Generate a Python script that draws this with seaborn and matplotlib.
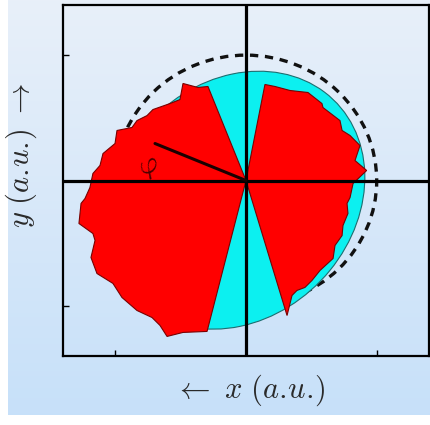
import numpy as np
import matplotlib
matplotlib.use("Agg")
import matplotlib.pyplot as plt
from matplotlib.patches import Circle, Ellipse
import seaborn as sns

sns.set_theme(style="white")
plt.rcParams["mathtext.fontset"] = "cm"

# outline of the left red lobe (data units), starting and ending at the origin
left_x = [0.0, -0.291, -0.367, -0.482, -0.505, -0.581, -0.712, -0.757, -0.834, -0.872,
          -0.987, -1.002, -1.094, -1.117, -1.171, -1.194, -1.232, -1.262, -1.278,
          -1.171, -1.155, -1.186, -1.140, -1.018, -0.949, -0.834, -0.719, -0.658,
          -0.604, -0.482, -0.298, 0.0]
left_y = [0.0, 0.750, 0.742, 0.774, 0.646, 0.614, 0.566, 0.518, 0.478, 0.423,
          0.399, 0.295, 0.215, 0.120, 0.056, -0.056, -0.144, -0.183, -0.343,
          -0.423, -0.478, -0.614, -0.742, -0.821, -0.933, -1.037, -1.093, -1.156,
          -1.244, -1.212, -1.204, 0.0]

# outline of the right red lobe
right_x = [0.0, 0.145, 0.222, 0.337, 0.474, 0.581, 0.589, 0.719, 0.735, 0.796,
           0.872, 0.834, 0.923, 0.819, 0.796, 0.773, 0.780, 0.742, 0.735, 0.681,
           0.666, 0.566, 0.505, 0.451, 0.390, 0.352, 0.314, 0.0]
right_y = [0.0, 0.766, 0.750, 0.718, 0.702, 0.614, 0.582, 0.478, 0.399, 0.359,
           0.279, 0.159, 0.080, -0.024, -0.136, -0.183, -0.263, -0.359, -0.439,
           -0.518, -0.622, -0.718, -0.797, -0.853, -0.877, -0.917, -1.077, 0.0]

# cyan disc: centre, full width/height and tilt (degrees)
disc_center = (-0.075, -0.157)
disc_size = (2.19, 1.82)
disc_angle = 52.0

# reference circle radius
ref_radius = 1.0

# angle marker
phi_x = [0.0, -0.696]
phi_y = [0.0, 0.295]

W, H = 431, 425
fig = plt.figure(figsize=(W / 100, H / 100), dpi=100, facecolor="white")

# soft blue gradient backdrop
bg = fig.add_axes([0, 0, 1, 1])
bg.set_xlim(0, 1)
bg.set_ylim(0, 1)
top = np.array([0.91, 0.94, 0.98])
bot = np.array([0.78, 0.88, 0.98])
t = np.linspace(0, 1, 256)[:, None]
grad = (top * (1 - t) + bot * t)[:, None, :]
bg.imshow(grad, extent=[8 / W, 1, 10 / H, 1], aspect="auto", zorder=0)
bg.axis("off")

ax = fig.add_axes([63 / W, 1 - 356 / H, 366 / W, 351 / H])
ax.set_facecolor("none")
ax.set_xlim(-1.4, 1.4)
ax.set_ylim(-1.4, 1.4)

ax.add_patch(Circle((0, 0), ref_radius, fill=False, ls=(0, (2.5, 2.0)),
                    lw=2.4, ec="#111111", zorder=1))
ax.add_patch(Ellipse(disc_center, disc_size[0], disc_size[1], angle=disc_angle,
                     fc="#0cf0f0", ec="#1d6e70", lw=0.8, zorder=2))
ax.fill(left_x, left_y, fc="#ff0000", ec="#7a0000", lw=0.8, zorder=3)
ax.fill(right_x, right_y, fc="#ff0000", ec="#7a0000", lw=0.8, zorder=3)

ax.axhline(0, color="black", lw=2.3, zorder=4)
ax.axvline(0, color="black", lw=2.3, zorder=4)

sns.lineplot(x=phi_x, y=phi_y, ax=ax, color="#1a0000", lw=2.2, zorder=5,
             sort=False, estimator=None)
ax.text(-0.74, 0.11, r"$\varphi$", fontsize=21, color="#4a0000",
        rotation=25, ha="center", va="center", zorder=6)

ax.set_xticks([-1, 1])
ax.set_yticks([-1, 1])
ax.tick_params(direction="in", length=4, width=1, colors="black",
               labelbottom=False, labelleft=False, bottom=True, left=True,
               top=False, right=False)
for s in ax.spines.values():
    s.set_visible(True)
    s.set_color("black")
    s.set_linewidth(1.6)
ax.set_xlabel("")
ax.set_ylabel("")

fig.text(250 / W, 1 - 390 / H, r"$\leftarrow\ x\ (a.\!u.\!)$", ha="center", va="center",
         fontsize=22, color="#2a2a2a")
fig.text(21 / W, 1 - 155 / H, r"$y\ (a.\!u.\!)\ \rightarrow$", ha="center", va="center",
         fontsize=22, color="#2a2a2a", rotation=90)

fig.savefig("out.png", dpi=100, facecolor="white")
